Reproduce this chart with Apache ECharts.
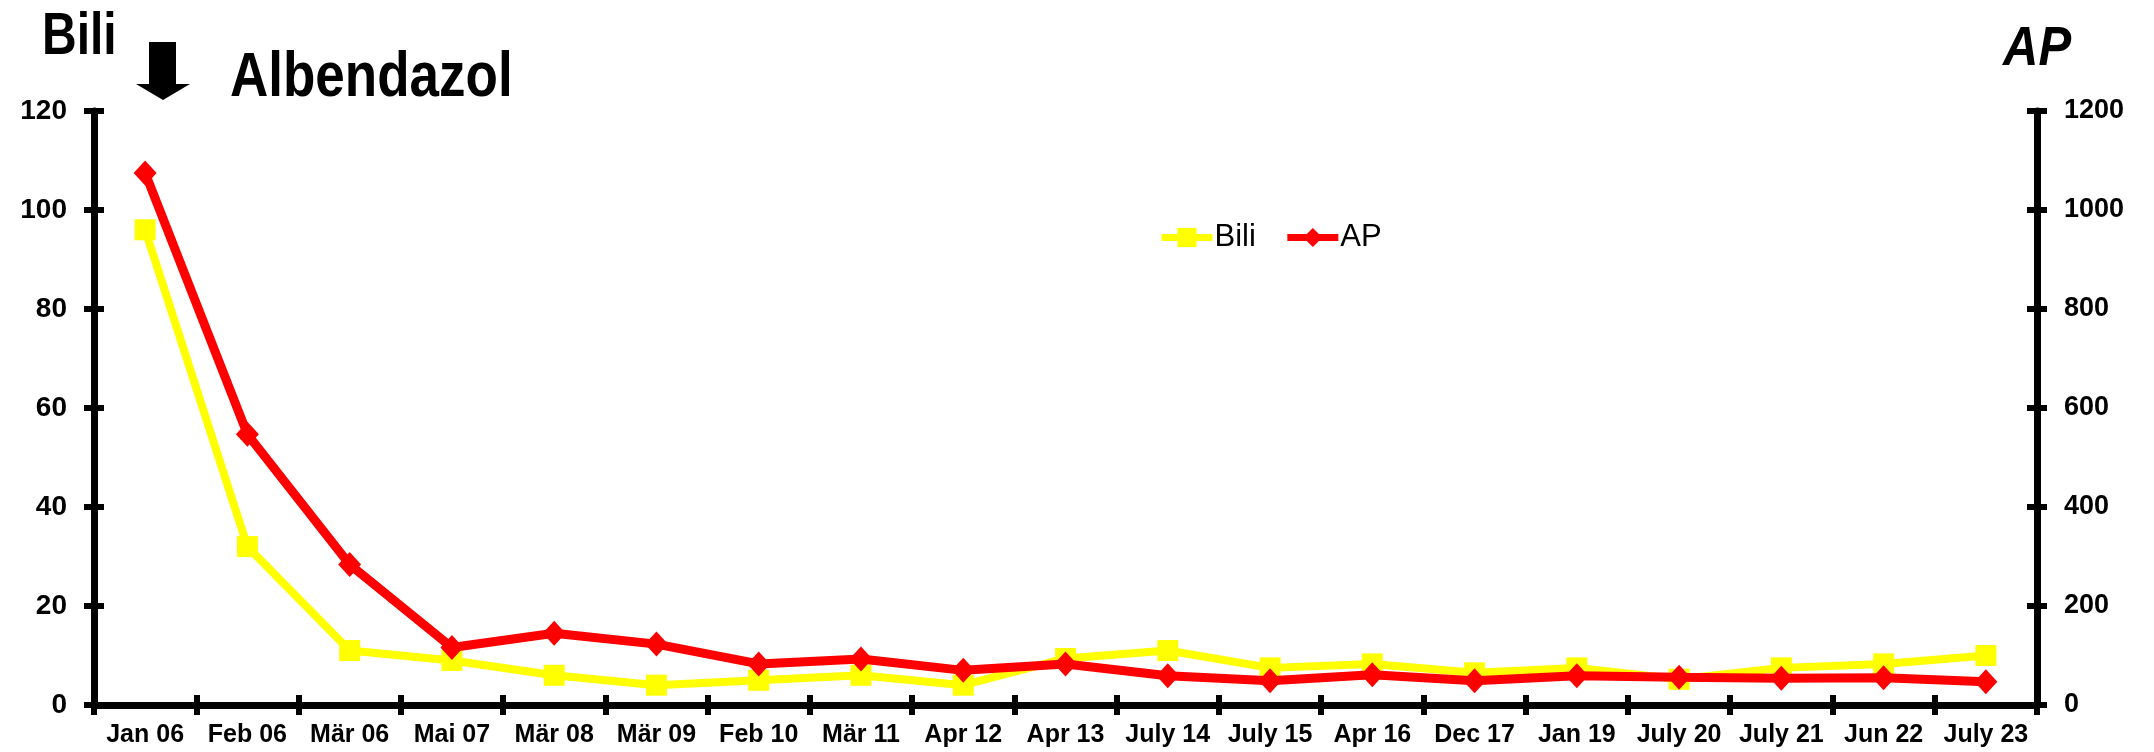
<!DOCTYPE html>
<html>
<head>
<meta charset="utf-8">
<script src="https://cdn.jsdelivr.net/npm/echarts@6/dist/echarts.min.js"></script>
<style>
html,body{margin:0;padding:0;background:#fff;}
#chart{width:2154px;height:752px;}
</style>
</head>
<body>
<div id="chart"></div>
<script>
const categories = ['Jan 06','Feb 06','Mär 06','Mai 07','Mär 08','Mär 09','Feb 10','Mär 11','Apr 12','Apr 13','July 14','July 15','Apr 16','Dec 17','Jan 19','July 20','July 21','Jun 22','July 23'];
const biliValues = [96, 32, 11, 9, 6, 4, 5, 6, 4, 9.4, 11, 7.5, 8.3, 6.5, 7.5, 5.2, 7.5, 8.3, 10];
const apValues = [1075, 547, 284, 116, 145, 123, 83, 93, 70, 83, 59, 49, 61, 49, 59, 56, 54, 55, 47];
const biliTicks = {min: 0, max: 120, interval: 20};
const apTicks = {min: 0, max: 1200, interval: 200};

const FONT = '"Liberation Sans", Arial, sans-serif';
const axisLine = {show: true, lineStyle: {color: '#000', width: 7}};
const tickOut = {show: true, inside: false, length: 10, lineStyle: {color: '#000', width: 6}};
const tickIn = {show: true, inside: true, length: 10, lineStyle: {color: '#000', width: 6}};
const plain = v => String(v);

const chart = echarts.init(document.getElementById('chart'), null, {renderer: 'canvas'});
chart.setOption({
  animation: false,
  backgroundColor: '#fff',
  grid: {left: 94, right: 117, top: 111, bottom: 47, containLabel: false},
  legend: {
    left: 1153, top: 217,
    itemWidth: 51, itemHeight: 24, itemGap: 28,
    lineStyle: {width: 7},
    textStyle: {fontFamily: FONT, fontSize: 31, color: '#000', padding: [0, 0, 0, -3]},
    data: ['Bili', 'AP']
  },
  xAxis: [
    {
      type: 'category', data: categories, boundaryGap: true,
      axisLine: axisLine, axisTick: tickOut,
      axisLabel: {fontFamily: FONT, fontWeight: 'bold', fontSize: 25, color: '#000', margin: 18, interval: 0},
      splitLine: {show: false}
    },
    {
      type: 'category', data: categories, boundaryGap: true, position: 'bottom',
      axisLine: {show: false}, axisTick: tickIn, axisLabel: {show: false}, splitLine: {show: false}
    }
  ],
  yAxis: [
    {
      type: 'value', position: 'left', min: biliTicks.min, max: biliTicks.max, interval: biliTicks.interval,
      axisLine: axisLine, axisTick: tickOut,
      axisLabel: {fontFamily: FONT, fontWeight: 'bold', fontSize: 28, color: '#000', margin: 27, formatter: plain},
      splitLine: {show: false}
    },
    {
      type: 'value', position: 'right', min: apTicks.min, max: apTicks.max, interval: apTicks.interval,
      axisLine: axisLine, axisTick: tickOut,
      axisLabel: {fontFamily: FONT, fontWeight: 'bold', fontSize: 27, color: '#000', margin: 27, formatter: plain},
      splitLine: {show: false}
    },
    {
      type: 'value', position: 'left', min: biliTicks.min, max: biliTicks.max, interval: biliTicks.interval,
      axisLine: {show: false}, axisTick: tickIn, axisLabel: {show: false}, splitLine: {show: false}
    },
    {
      type: 'value', position: 'right', min: apTicks.min, max: apTicks.max, interval: apTicks.interval,
      axisLine: {show: false}, axisTick: tickIn, axisLabel: {show: false}, splitLine: {show: false}
    }
  ],
  series: [
    {
      name: 'Bili', type: 'line', xAxisIndex: 0, yAxisIndex: 0, data: biliValues,
      symbol: 'rect', symbolSize: 21,
      lineStyle: {color: '#FFFF00', width: 8},
      itemStyle: {color: '#FFFF00'},
      z: 3
    },
    {
      name: 'AP', type: 'line', xAxisIndex: 0, yAxisIndex: 1, data: apValues,
      symbol: 'diamond', symbolSize: [23, 25],
      lineStyle: {color: '#FF0000', width: 9},
      itemStyle: {color: '#FF0000'},
      z: 4
    }
  ],
  graphic: [
    {type: 'text', x: 42, y: 37, scaleY: 1.25,
     style: {text: 'Bili', font: 'bold 48px ' + FONT, fill: '#000', textVerticalAlign: 'middle', textAlign: 'left'}},
    {type: 'text', x: 230, y: 78, scaleY: 1.2,
     style: {text: 'Albendazol', font: 'bold 53px ' + FONT, fill: '#000', textVerticalAlign: 'middle', textAlign: 'left'}},
    {type: 'text', x: 2003, y: 49, scaleY: 1.15,
     style: {text: 'AP', font: 'italic bold 49px ' + FONT, fill: '#000', textVerticalAlign: 'middle', textAlign: 'left'}},
    {type: 'polygon',
     shape: {points: [[149, 42], [176, 42], [176, 84], [190, 84], [163, 100], [136, 84], [149, 84]]},
     style: {fill: '#000'}}
  ]
});
</script>
</body>
</html>
